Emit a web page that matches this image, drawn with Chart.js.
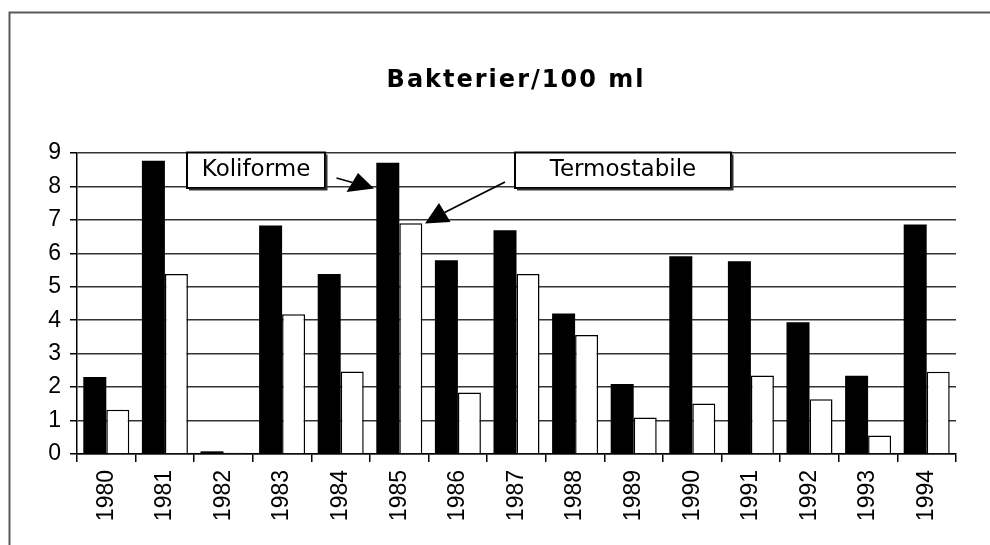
<!DOCTYPE html>
<html>
<head>
<meta charset="utf-8">
<script src="https://cdn.jsdelivr.net/npm/chart.js@4.4.1/dist/chart.umd.min.js"></script>
<style>
  html, body { margin: 0; padding: 0; background: #fff; }
  #wrap { position: relative; width: 990px; height: 545px; }
</style>
</head>
<body>
<div id="wrap"><canvas id="c" width="990" height="545"></canvas></div>
<script>
const years = ['1980','1981','1982','1983','1984','1985','1986','1987','1988','1989','1990','1991','1992','1993','1994'];
const koliforme = [2.30, 8.77, 0.08, 6.83, 5.38, 8.71, 5.79, 6.69, 4.20, 2.09, 5.91, 5.76, 3.94, 2.34, 6.86];
const termostabile = [1.32, 5.38, 0.04, 4.18, 2.47, 6.90, 1.84, 5.38, 3.56, 1.09, 1.51, 2.35, 1.64, 0.55, 2.46];
const yTicks = [0,1,2,3,4,5,6,7,8,9];
const titleText = 'Bakterier/100 ml';
const labelKoli = 'Koliforme';
const labelTermo = 'Termostabile';

const annotationPlugin = {
  id: 'annot',
  beforeDraw(chart) {
    const ctx = chart.ctx;
    ctx.save();
    ctx.fillStyle = '#fff';
    ctx.fillRect(0, 0, chart.width, chart.height);
    ctx.strokeStyle = '#5a5a5a';
    ctx.lineWidth = 2;
    ctx.beginPath();
    ctx.moveTo(9.5, 545);
    ctx.lineTo(9.5, 12.5);
    ctx.lineTo(990, 12.5);
    ctx.stroke();
    // title
    ctx.fillStyle = '#000';
    ctx.font = 'bold 24px "DejaVu Sans"';
    if ('letterSpacing' in ctx) ctx.letterSpacing = '2px';
    ctx.textAlign = 'center';
    ctx.textBaseline = 'middle';
    ctx.fillText(titleText, 516, 81);
    ctx.restore();
  },
  afterDraw(chart) {
    const ctx = chart.ctx;
    ctx.save();
    function box(x1, y1, x2, y2, text) {
      ctx.fillStyle = '#fff';
      ctx.fillRect(x1, y1, x2 - x1, y2 - y1);
      ctx.strokeStyle = '#000';
      ctx.lineWidth = 2;
      ctx.strokeRect(x1, y1, x2 - x1, y2 - y1);
      ctx.lineWidth = 2;
      ctx.strokeStyle = '#333';
      ctx.beginPath();
      ctx.moveTo(x1 + 2, y2 + 1.5);
      ctx.lineTo(x2 + 1.5, y2 + 1.5);
      ctx.lineTo(x2 + 1.5, y1 + 2);
      ctx.stroke();
      ctx.fillStyle = '#000';
      ctx.font = '23px "DejaVu Sans"';
      ctx.textAlign = 'center';
      ctx.textBaseline = 'middle';
      ctx.fillText(text, (x1 + x2) / 2, (y1 + y2) / 2);
    }
    function arrow(sx, sy, bx, by, tip, b1, b2) {
      ctx.strokeStyle = '#000';
      ctx.lineWidth = 1.8;
      ctx.beginPath();
      ctx.moveTo(sx, sy);
      ctx.lineTo(bx, by);
      ctx.stroke();
      ctx.fillStyle = '#000';
      ctx.beginPath();
      ctx.moveTo(tip[0], tip[1]);
      ctx.lineTo(b1[0], b1[1]);
      ctx.lineTo(b2[0], b2[1]);
      ctx.closePath();
      ctx.fill();
    }
    box(187, 152.5, 325, 188, labelKoli);
    box(515, 152.5, 731, 188, labelTermo);
    arrow(336.5, 178, 352.5, 182.5, [374, 188.5], [346.5, 192], [358, 173]);
    arrow(505, 182, 444.5, 212.5, [425, 223.5], [439, 203], [450.5, 222]);
    ctx.restore();
  }
};

new Chart(document.getElementById('c'), {
  type: 'bar',
  data: {
    labels: years,
    datasets: [
      {
        label: labelKoli,
        data: koliforme,
        backgroundColor: '#000',
        borderWidth: 0,
        barPercentage: 1.0,
        categoryPercentage: 0.785
      },
      {
        label: labelTermo,
        data: termostabile,
        backgroundColor: '#fff',
        borderColor: '#000',
        borderWidth: 1.5,
        barPercentage: 1.0,
        categoryPercentage: 0.785
      }
    ]
  },
  options: {
    responsive: false,
    animation: false,
    devicePixelRatio: 1,
    layout: { padding: { left: 0, right: 34, top: 153, bottom: 0 } },
    plugins: {
      legend: { display: false },
      tooltip: { enabled: false },
      title: { display: false }
    },
    scales: {
      x: {
        afterFit(scale) { scale.height = 91; },
        grid: {
          display: true,
          offset: true,
          drawOnChartArea: false,
          drawTicks: true,
          tickLength: 8,
          color: '#000',
          lineWidth: 1.5
        },
        border: { display: true, color: '#000', width: 1.5 },
        ticks: {
          color: '#000',
          font: { family: '"Liberation Sans"', size: 23 },
          minRotation: 90,
          maxRotation: 90,
          padding: 8,
          autoSkip: false
        }
      },
      y: {
        min: 0,
        max: 9,
        afterFit(scale) { scale.width = 77; },
        afterBuildTicks(scale) { scale.ticks = yTicks.map(v => ({ value: v })); },
        grid: {
          color: '#333',
          lineWidth: 1.5,
          drawTicks: true,
          tickLength: 7,
          tickColor: '#000'
        },
        border: { display: true, color: '#000', width: 1.5 },
        ticks: {
          color: '#000',
          font: { family: '"Liberation Sans"', size: 23 },
          padding: 9,
          stepSize: 1
        }
      }
    }
  },
  plugins: [annotationPlugin]
});
</script>
</body>
</html>
